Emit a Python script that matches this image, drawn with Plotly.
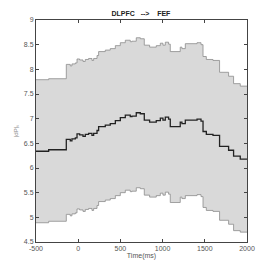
import plotly.graph_objects as go

time_edges = [-500, -350, -141, -94, -74, -34, -14, 17, 57, 84, 123, 163, 183, 223, 242, 321, 380, 440,
              499, 558, 617, 637, 688, 736, 783, 846, 925, 973, 1004, 1032, 1071, 1091, 1209, 1229, 1269,
              1408, 1455, 1479, 1518, 1597, 1675, 1782, 1841, 1920, 2000]
mean_vals = [6.34, 6.37, 6.58, 6.55, 6.59, 6.61, 6.69, 6.67, 6.64, 6.68, 6.70, 6.66, 6.70, 6.76, 6.84,
             6.87, 6.90, 6.96, 7.02, 7.07, 7.04, 7.05, 7.12, 7.10, 6.97, 6.93, 6.96, 7.01, 6.97, 7.03,
             6.99, 6.84, 6.93, 6.90, 6.97, 6.99, 6.95, 6.74, 6.68, 6.66, 6.44, 6.36, 6.24, 6.18]
upper_vals = [7.79, 7.81, 8.10, 8.07, 8.11, 8.13, 8.21, 8.19, 8.16, 8.20, 8.22, 8.18, 8.22, 8.28, 8.36,
              8.39, 8.42, 8.48, 8.54, 8.59, 8.56, 8.57, 8.64, 8.62, 8.49, 8.45, 8.48, 8.53, 8.49, 8.55,
              8.51, 8.36, 8.45, 8.42, 8.52, 8.54, 8.50, 8.26, 8.20, 8.18, 7.94, 7.86, 7.71, 7.66]
lower_vals = [4.89, 4.92, 5.06, 5.03, 5.07, 5.09, 5.17, 5.15, 5.12, 5.16, 5.18, 5.14, 5.18, 5.24, 5.32,
              5.35, 5.38, 5.44, 5.50, 5.55, 5.52, 5.53, 5.60, 5.58, 5.45, 5.41, 5.44, 5.49, 5.45, 5.51,
              5.47, 5.30, 5.41, 5.38, 5.44, 5.46, 5.42, 5.20, 5.14, 5.12, 4.94, 4.86, 4.73, 4.70]
x_ticks = [-500, 0, 500, 1000, 1500, 2000]
y_ticks = [4.5, 5, 5.5, 6, 6.5, 7, 7.5, 8, 8.5, 9]
y_tick_text = ["4.5", "5", "5.5", "6", "6.5", "7", "7.5", "8", "8.5", "9"]


def close(v):
    return v + [v[-1]]


FONT = "Liberation Sans Narrow, Arial Narrow, sans-serif"

fig = go.Figure()
fig.add_trace(go.Scatter(x=time_edges, y=close(lower_vals), mode="lines", line_shape="hv",
                         line=dict(color="#8c8c8c", width=0.8), showlegend=False))
fig.add_trace(go.Scatter(x=time_edges, y=close(upper_vals), mode="lines", line_shape="hv",
                         fill="tonexty", fillcolor="#d9d9d9",
                         line=dict(color="#8c8c8c", width=0.8), showlegend=False))
fig.add_trace(go.Scatter(x=time_edges, y=close(mean_vals), mode="lines", line_shape="hv",
                         line=dict(color="#222222", width=1.3), showlegend=False))

axis_common = dict(showgrid=False, zeroline=False, showline=True, linecolor="#444444", linewidth=1,
                   mirror="ticks", ticks="inside", ticklen=3, tickcolor="#444444", automargin=False,
                   tickfont=dict(family=FONT, size=7, color="#555555"))

fig.update_layout(
    width=273, height=273,
    margin=dict(l=28, r=34, t=12, b=39, autoexpand=False),
    paper_bgcolor="white", plot_bgcolor="white",
    title=dict(text="<b>DLPFC&nbsp;&nbsp;&nbsp;--&gt;&nbsp;&nbsp;&nbsp;&nbsp;FEF</b>", x=0.487, xanchor="center",
               y=0.978, yanchor="middle",
               font=dict(family=FONT, size=7, color="#222222")),
    xaxis=dict(range=[-500, 2000], tickvals=x_ticks, ticktext=[str(t) for t in x_ticks],
               title=dict(text="Time(ms)", standoff=0, font=dict(family=FONT, size=7, color="#555555")),
               **axis_common),
    yaxis=dict(range=[4.5, 9], tickvals=y_ticks, ticktext=y_tick_text,
               title=dict(text="|dP|ₛ", standoff=4, font=dict(family=FONT, size=6, color="#888888")),
               **axis_common),
)

fig.write_html("out.html")
